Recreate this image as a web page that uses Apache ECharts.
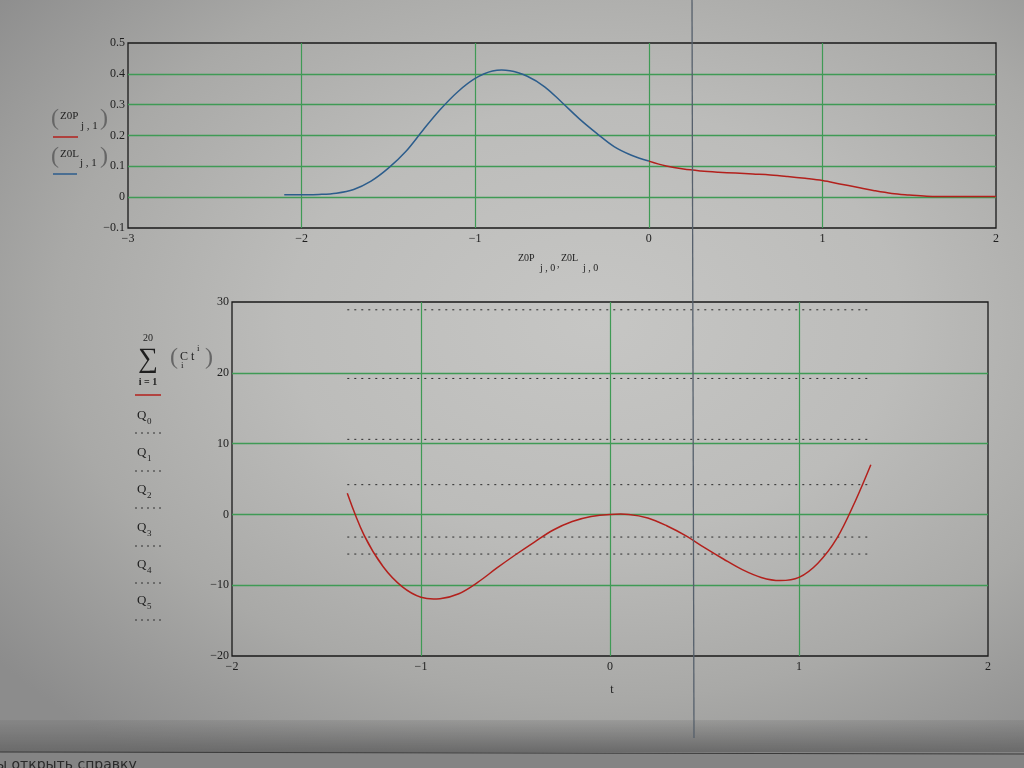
<!DOCTYPE html>
<html>
<head>
<meta charset="utf-8">
<script src="https://cdn.jsdelivr.net/npm/echarts@6/dist/echarts.min.js"></script>
<style>
html,body{margin:0;padding:0;width:1024px;height:768px;overflow:hidden;
background: radial-gradient(ellipse 75% 70% at 58% 42%, #c6c6c4 0%, #bcbcba 40%, #a9a9a7 70%, #8c8c8c 100%);}
#c{width:1024px;height:768px;}
</style>
</head>
<body>
<div id="c"></div>
<script>
// ---- top plot: Z0L (blue, left part) and Z0P (red, right part)
const z0lX = [-2.1, -2.0, -1.9, -1.8, -1.7, -1.6, -1.5, -1.4, -1.3, -1.2, -1.1, -1.0, -0.9, -0.8, -0.7, -0.6, -0.5, -0.4, -0.3, -0.2, -0.1, 0.0];
const z0lY = [0.008, 0.008, 0.009, 0.013, 0.025, 0.052, 0.094, 0.148, 0.218, 0.285, 0.342, 0.385, 0.409, 0.41, 0.392, 0.358, 0.307, 0.254, 0.207, 0.164, 0.136, 0.117];
const z0pX = [0.0, 0.1, 0.2, 0.3, 0.4, 0.5, 0.6, 0.7, 0.8, 0.9, 1.0, 1.1, 1.2, 1.3, 1.4, 1.5, 1.6, 1.7, 1.8, 1.9, 2.0];
const z0pY = [0.117, 0.101, 0.091, 0.085, 0.081, 0.078, 0.075, 0.072, 0.067, 0.061, 0.054, 0.043, 0.032, 0.021, 0.012, 0.007, 0.003, 0.002, 0.002, 0.002, 0.002];
const topXTicks = [-3, -2, -1, 0, 1, 2];
const topYTicks = [-0.1, 0, 0.1, 0.2, 0.3, 0.4, 0.5];

// ---- bottom plot: polynomial sum (red) and Q levels (dotted)
const tVals = [-1.39, -1.3, -1.2, -1.1, -1.0, -0.9, -0.8, -0.7, -0.6, -0.5, -0.4, -0.3, -0.2, -0.1, 0.0, 0.1, 0.2, 0.3, 0.4, 0.5, 0.6, 0.7, 0.8, 0.9, 1.0, 1.1, 1.2, 1.3, 1.38];
const sumVals = [3.0, -3.0, -7.4, -10.2, -11.7, -11.9, -11.2, -9.6, -7.6, -5.7, -3.9, -2.2, -1.0, -0.3, 0.0, 0.0, -0.5, -1.6, -3.0, -4.7, -6.3, -7.8, -8.9, -9.35, -8.9, -6.9, -3.4, 2.0, 7.0];
const qNames = ['Q0', 'Q1', 'Q2', 'Q3', 'Q4', 'Q5'];
const qLevels = [28.9, 19.2, 10.6, 4.2, -3.2, -5.6];
const qRange = [-1.39, 1.38];
const botXTicks = [-2, -1, 0, 1, 2];
const botYTicks = [-20, -10, 0, 10, 20, 30];

const SERIF = '"Liberation Serif", "DejaVu Serif", serif';
const GREEN = '#3f9a55';
const RED = '#b3201c';
const BLUE = '#2c5d8c';

function fmt(v, dec) {
  if (Math.abs(v) < 1e-9) return '0';
  const s = dec ? Math.abs(v).toFixed(dec) : String(Math.abs(Math.round(v)));
  return (v < 0 ? '\u2212' : '') + s;
}

function T(x, y, text, size, extra) {
  extra = extra || {};
  return {
    type: 'text', x: x, y: y, z: 100, silent: true,
    style: {
      text: text,
      font: (extra.weight || 'normal') + ' ' + size + 'px ' + (extra.family || SERIF),
      fill: extra.fill || '#1e1e1e',
      textAlign: extra.align || 'left', align: extra.align || 'left',
      textVerticalAlign: 'middle', verticalAlign: 'middle'
    }
  };
}
function L(x1, y1, x2, y2, color, w, dash) {
  return { type: 'line', z: 100, silent: true,
    shape: { x1: x1, y1: y1, x2: x2, y2: y2 },
    style: { stroke: color, lineWidth: w, lineDash: dash || null } };
}

const graphics = [];
// status bar at bottom
graphics.push({ type: 'rect', z: 1, silent: true, shape: { x: 0, y: 720, width: 1024, height: 32 },
  style: { fill: { type: 'linear', x: 0, y: 0, x2: 0, y2: 1, colorStops: [{ offset: 0, color: 'rgba(110,110,110,0.2)' }, { offset: 1, color: '#6a6a6a' }] } } });
graphics.push({ type: 'rect', z: 1, silent: true, shape: { x: 0, y: 752, width: 1024, height: 16 }, style: { fill: '#848484' } });
graphics.push(L(0, 752, 1024, 754, '#3a3a3a', 1.2));
graphics.push(T(-4, 765, 'ы открыть справку', 14, { family: '"DejaVu Sans", sans-serif', fill: '#2a2a2a' }));
// vertical cursor line
graphics.push(L(692, 0, 694, 738, '#56606c', 1.3));

// top legend
graphics.push(T(51, 119, '(', 24, { fill: '#666' }));
graphics.push(T(60, 116, 'Z0P', 11));
graphics.push(T(81, 126, 'j , 1', 11));
graphics.push(T(100, 119, ')', 24, { fill: '#666' }));
graphics.push(L(53, 137, 78, 137, RED, 1.5));
graphics.push(T(51, 157, '(', 24, { fill: '#666' }));
graphics.push(T(60, 154, 'Z0L', 11));
graphics.push(T(80, 163, 'j , 1', 11));
graphics.push(T(100, 157, ')', 24, { fill: '#666' }));
graphics.push(L(53, 174, 77, 174, BLUE, 1.5));
// top x title
graphics.push(T(518, 258, 'Z0P', 10));
graphics.push(T(540, 268, 'j , 0', 10));
graphics.push(T(557, 264, ',', 10));
graphics.push(T(561, 258, 'Z0L', 10));
graphics.push(T(583, 268, 'j , 0', 10));

// bottom legend: sum
graphics.push(T(148, 338, '20', 10, { align: 'center' }));
graphics.push(T(148, 360, '\u2211', 28, { align: 'center' }));
graphics.push(T(148, 382, 'i = 1', 10, { align: 'center', weight: 'bold' }));
graphics.push(T(170, 358, '(', 24, { fill: '#666' }));
graphics.push(T(180, 357, 'C', 12));
graphics.push(T(181, 366, 'i', 9));
graphics.push(T(191, 357, 't', 12));
graphics.push(T(197, 349, 'i', 9));
graphics.push(T(205, 358, ')', 24, { fill: '#666' }));
graphics.push(L(135, 395, 161, 395, RED, 1.5));
const qLabelY = [416, 453, 490, 528, 565, 601];
const qLineY = [433, 471, 508, 546, 583, 620];
qNames.forEach(function (n, i) {
  graphics.push(T(137, qLabelY[i], 'Q', 13));
  graphics.push(T(147, qLabelY[i] + 6, n.slice(1), 9));
  graphics.push(L(135, qLineY[i], 162, qLineY[i], '#333', 1, [2, 4]));
});
// bottom x title
graphics.push(T(612, 690, 't', 12, { align: 'center' }));

function zip(a, b) { return a.map(function (v, i) { return [v, b[i]]; }); }

// smooth curve through the data points, positioned via the axes' own coordinate mapping
function curve(xs, ys, gi, color) {
  return {
    type: 'custom', coordinateSystem: 'cartesian2d', xAxisIndex: gi, yAxisIndex: gi,
    data: zip(xs, ys), silent: true, z: 5, clip: true,
    renderItem: function (params, api) {
      if (params.dataIndex !== 0) return null;
      const pts = xs.map(function (x, i) { return api.coord([x, ys[i]]); });
      return { type: 'polyline', shape: { points: pts, smooth: 0.35 },
        style: { stroke: color, lineWidth: 1.5, fill: null } };
    }
  };
}

const axisLabelStyle = { fontFamily: SERIF, fontSize: 12, color: '#1e1e1e' };

const series = [
  curve(z0lX, z0lY, 0, BLUE),
  curve(z0pX, z0pY, 0, RED),
  curve(tVals, sumVals, 1, RED)
];
qLevels.forEach(function (q) {
  series.push({ type: 'line', xAxisIndex: 1, yAxisIndex: 1, data: [[qRange[0], q], [qRange[1], q]],
    showSymbol: false, silent: true, lineStyle: { color: '#2a2a2a', width: 1, type: [2, 5] }, z: 4 });
});

const option = {
  animation: false,
  backgroundColor: 'transparent',
  grid: [
    { left: 128, top: 43, width: 868, height: 185, show: true, borderColor: '#1a1a1a', borderWidth: 1.3, backgroundColor: 'transparent' },
    { left: 232, top: 302, width: 756, height: 354, show: true, borderColor: '#1a1a1a', borderWidth: 1.3, backgroundColor: 'transparent' }
  ],
  xAxis: [
    { gridIndex: 0, type: 'value', min: topXTicks[0], max: topXTicks[topXTicks.length - 1], interval: 1,
      axisLine: { show: false }, axisTick: { show: false },
      splitLine: { show: true, showMinLine: false, showMaxLine: false, lineStyle: { color: GREEN, width: 1.2 } },
      axisLabel: Object.assign({ margin: 5, formatter: function (v) { return fmt(v, 0); }, showMinLabel: true, showMaxLabel: true }, axisLabelStyle) },
    { gridIndex: 1, type: 'value', min: botXTicks[0], max: botXTicks[botXTicks.length - 1], interval: 1,
      axisLine: { show: false }, axisTick: { show: false },
      splitLine: { show: true, showMinLine: false, showMaxLine: false, lineStyle: { color: GREEN, width: 1.2 } },
      axisLabel: Object.assign({ margin: 5, formatter: function (v) { return fmt(v, 0); } }, axisLabelStyle) }
  ],
  yAxis: [
    { gridIndex: 0, type: 'value', min: topYTicks[0], max: topYTicks[topYTicks.length - 1], interval: 0.1,
      axisLine: { show: false }, axisTick: { show: false },
      splitLine: { show: true, showMinLine: false, showMaxLine: false, lineStyle: { color: GREEN, width: 1.3 } },
      axisLabel: Object.assign({ margin: 3, formatter: function (v) { return fmt(v, 1); } }, axisLabelStyle) },
    { gridIndex: 1, type: 'value', min: botYTicks[0], max: botYTicks[botYTicks.length - 1], interval: 10,
      axisLine: { show: false }, axisTick: { show: false },
      splitLine: { show: true, showMinLine: false, showMaxLine: false, lineStyle: { color: GREEN, width: 1.3 } },
      axisLabel: Object.assign({ margin: 3, formatter: function (v) { return fmt(v, 0); } }, axisLabelStyle) }
  ],
  series: series,
  graphic: graphics
};

const chart = echarts.init(document.getElementById('c'), null, { renderer: 'canvas' });
chart.setOption(option);
</script>
</body>
</html>
